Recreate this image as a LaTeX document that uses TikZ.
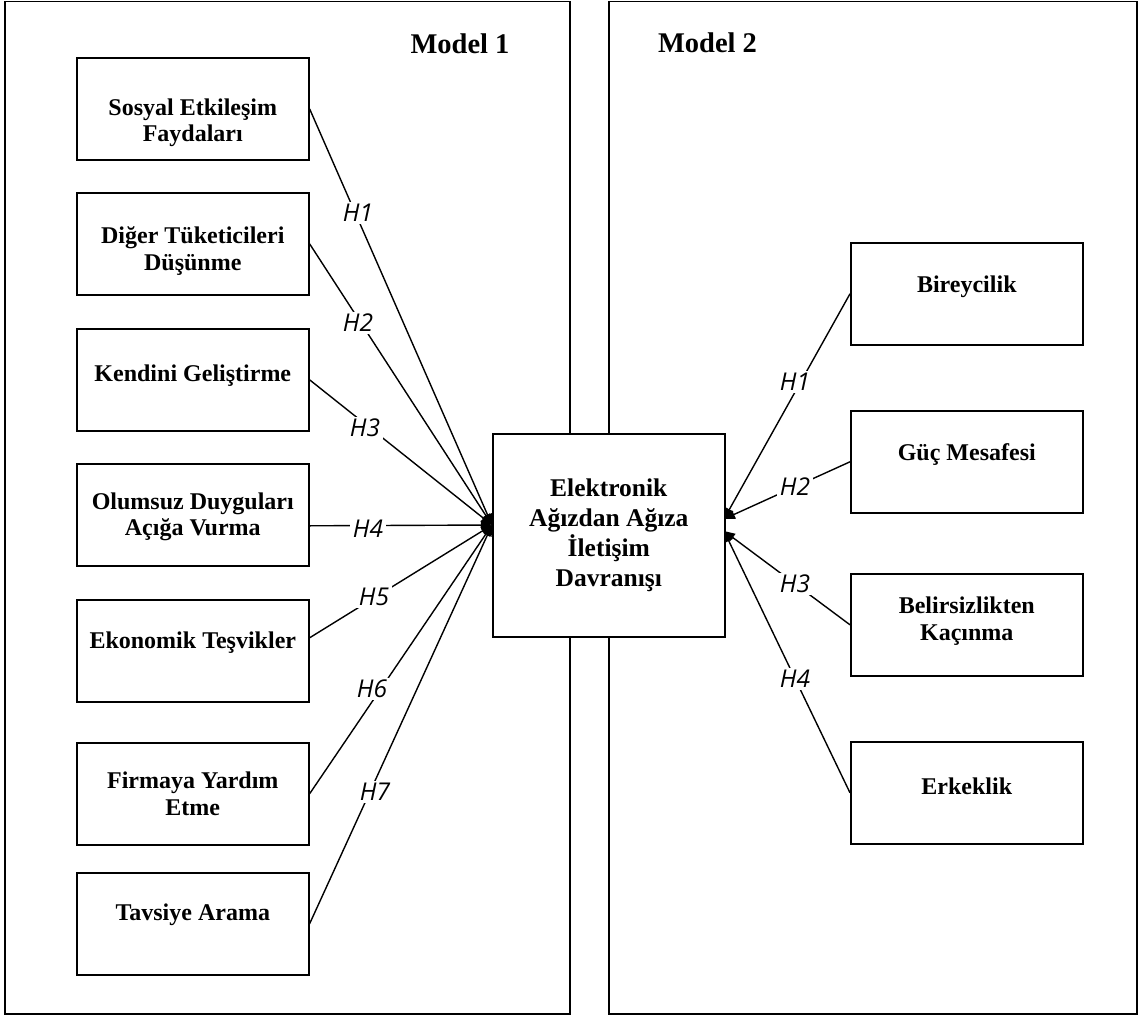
\documentclass[tikz,border=0pt]{standalone}
\usepackage{fontspec}
\setmainfont{Liberation Serif}
\newfontfamily\hfont{Open Sans}
\usetikzlibrary{arrows.meta,calc}
\begin{document}
\begin{tikzpicture}[x=1pt,y=-1pt,
  panel/.style={draw, line width=1.6pt},
  box/.style={draw, line width=1.6pt, fill=white, minimum width=232pt, minimum height=102pt, inner sep=0pt, anchor=north west},
  txt/.style={align=center, font=\bfseries\fontsize{24}{26.7}\selectfont, inner sep=0pt},
  ctxt/.style={align=center, font=\bfseries\fontsize{25.5}{30}\selectfont, inner sep=0pt},
  mtxt/.style={font=\bfseries\fontsize{28.5}{30}\selectfont, inner sep=0pt},
  lab/.style={font=\hfont\itshape\fontsize{24.5}{24.5}\selectfont, fill=white, inner sep=2.5pt},
  conn/.style={line width=1.4pt, -{Triangle[length=11pt,width=9pt]}}]
\useasboundingbox (0,0) rectangle (1141,1017);
% panels
\draw[panel] (5,1.5) rectangle (570,1014);
\draw[panel] (609,1.5) rectangle (1137,1014);
\node[mtxt] (m1) at (460,43.5) {Model 1};
\node[mtxt] (m2) at (707.5,43) {Model 2};
% left boxes
\node[box] (b1) at (76,57) {};
\node[box] (b2) at (76,192) {};
\node[box] (b3) at (76,328) {};
\node[box] (b4) at (76,463) {};
\node[box] (b5) at (76,599) {};
\node[box] (b6) at (76,742) {};
\node[box] (b7) at (76,872) {};
\node[txt] (t1) at ($(b1.center)+(0,14)$) {Sosyal Etkileşim\\Faydaları};
\node[txt] (t2) at ($(b2.center)+(0,7)$) {Diğer Tüketicileri\\Düşünme};
\node[txt] (t3) at ($(b3.center)+(0,-4)$) {Kendini Geliştirme};
\node[txt] (t4) at ($(b4.center)+(0,2)$) {Olumsuz Duyguları\\Açığa Vurma};
\node[txt] (t5) at ($(b5.center)+(0,-8)$) {Ekonomik Teşvikler};
\node[txt] (t6) at ($(b6.center)+(0,0)$) {Firmaya Yardım\\Etme};
\node[txt] (t7) at ($(b7.center)+(0,-9)$) {Tavsiye Arama};
% center box
\node[box, minimum height=203pt] (c) at (492,433) {};
\node[ctxt] (ct) at (c.center) {Elektronik\\Ağızdan Ağıza\\İletişim\\Davranışı};
% right boxes
\node[box] (r1) at (850,242) {};
\node[box] (r2) at (850,410) {};
\node[box] (r3) at (850,573) {};
\node[box] (r4) at (850,741) {};
\node[txt] (s1) at ($(r1.center)+(0,-7)$) {Bireycilik};
\node[txt] (s2) at ($(r2.center)+(0,-7)$) {Güç Mesafesi};
\node[txt] (s3) at ($(r3.center)+(0,-4)$) {Belirsizlikten\\Kaçınma};
\node[txt] (s4) at ($(r4.center)+(0,-7)$) {Erkeklik};
% convergence points
\coordinate (tipL) at (492,525);
\coordinate (tipRa) at (724,519);
\coordinate (tipRb) at (724,531);
% connectors left
\draw[conn] (b1.east) -- (tipL);
\draw[conn] (b2.east) -- (tipL);
\draw[conn] (b3.east) -- (tipL);
\draw[conn] ([yshift=-11pt]b4.east) -- (tipL);
\draw[conn] ([yshift=13pt]b5.east) -- (tipL);
\draw[conn] (b6.east) -- (tipL);
\draw[conn] (b7.east) -- (tipL);
% connectors right
\draw[conn] (r1.west) -- (tipRa);
\draw[conn] (r2.west) -- (tipRa);
\draw[conn] (r3.west) -- (tipRb);
\draw[conn] (r4.west) -- (tipRb);
% labels left
\node[lab] (h1) at (358,213) {H1};
\node[lab] (h2) at (358,323) {H2};
\node[lab] (h3) at (365,428) {H3};
\node[lab] (h4) at (368,529) {H4};
\node[lab] (h5) at (374,597) {H5};
\node[lab] (h6) at (372,689) {H6};
\node[lab] (h7) at (375,792) {H7};
% labels right
\node[lab] (g1) at (795,382) {H1};
\node[lab] (g2) at (795,487) {H2};
\node[lab] (g3) at (795,584) {H3};
\node[lab] (g4) at (795,679) {H4};
\end{tikzpicture}
\end{document}
